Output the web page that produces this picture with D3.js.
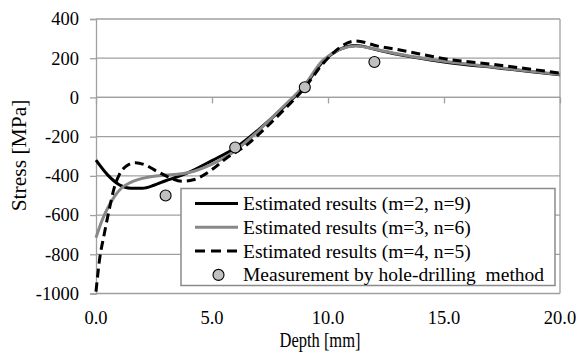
<!DOCTYPE html>
<html>
<head>
<meta charset="utf-8">
<script src="https://cdn.jsdelivr.net/npm/d3@7"></script>
<style>
  html, body { margin: 0; padding: 0; background: #fff; }
  svg { display: block; }
  svg text { font-family: "Liberation Serif", "Times New Roman", serif; fill: #000; }
</style>
</head>
<body>
<svg id="chart" width="578" height="352"></svg>
<script>
// Estimated residual stress profiles and hole-drilling measurements
const seriesLabels = [
  "Estimated results (m=2, n=9)",
  "Estimated results (m=3, n=6)",
  "Estimated results (m=4, n=5)",
  "Measurement by hole-drilling  method"
];

const depthM2 = [0, 0.5, 1.0, 1.5, 2.0, 2.5, 3.0, 3.5, 4.0, 5.0, 6.0, 7.0, 8.0, 9.0, 9.8, 11.2, 12.2, 13.1, 15.0, 17.5, 20.0];
const stressM2 = [-320, -395, -445, -463, -463, -448, -425, -405, -382, -322, -258, -165, -60, 60, 185, 265, 240, 217, 181, 148, 115];

const depthM3 = [0, 0.25, 0.5, 0.8, 1.1, 1.5, 2.0, 2.5, 3.0, 3.5, 4.0, 5.0, 6.0, 7.0, 8.0, 9.0, 9.8, 11.2, 12.2, 13.1, 15.0, 17.5, 20.0];
const stressM3 = [-715, -630, -565, -505, -462, -433, -413, -402, -396, -392, -383, -340, -272, -170, -55, 65, 192, 262, 242, 220, 184, 150, 117];

const depthM4 = [0, 0.15, 0.35, 0.6, 0.8, 1.0, 1.25, 1.7, 2.1, 2.6, 3.1, 3.7, 4.2, 5.0, 5.6, 6.5, 7.0, 8.0, 9.0, 9.8, 11.2, 12.2, 13.1, 15.0, 17.5, 20.0];
const stressM4 = [-990, -830, -700, -555, -455, -395, -355, -333, -343, -375, -405, -428, -420, -368, -312, -242, -190, -75, 50, 175, 288, 260, 242, 198, 163, 124];

const depthMeasured = [3.0, 6.0, 9.0, 12.0];
const stressMeasured = [-500, -255, 52, 181];

const xTicks = [0, 5, 10, 15, 20];
const yTicks = [400, 200, 0, -200, -400, -600, -800, -1000];

const svg = d3.select("#chart");
const x = d3.scaleLinear().domain([0, 20]).range([96, 560]);
const y = d3.scaleLinear().domain([-1000, 400]).range([293.5, 19]);

const gridColor = "#a0a0a0";
const serif = "Liberation Serif";

// horizontal gridlines
svg.append("g").selectAll("line").data(yTicks).join("line")
  .attr("x1", x(0)).attr("x2", x(20))
  .attr("y1", d => y(d)).attr("y2", d => y(d))
  .attr("stroke", gridColor).attr("stroke-width", 1.3);

// right frame edge
svg.append("line")
  .attr("x1", x(20)).attr("x2", x(20)).attr("y1", y(400)).attr("y2", y(-1000))
  .attr("stroke", gridColor).attr("stroke-width", 1.3);

// y axis (hyphen-minus labels)
const yAxis = d3.axisLeft(y).tickValues(yTicks).tickSize(6).tickPadding(11).tickFormat(d => String(d));
const gy = svg.append("g").attr("transform", `translate(${x(0)},0)`).call(yAxis)
  .attr("font-family", serif).attr("font-size", 18.5);
gy.select(".domain").attr("stroke", gridColor).attr("stroke-width", 1.3);
gy.selectAll(".tick line").attr("stroke", gridColor).attr("stroke-width", 1.3);
gy.selectAll(".tick text").style("font-family", serif).style("font-size", "18.5px").attr("fill", "#000");

// x axis crossing at zero, labels along the bottom
const xAxis = d3.axisBottom(x).tickValues(xTicks).tickSize(6).tickFormat(d3.format(".1f"));
const gx = svg.append("g").attr("transform", `translate(0,${y(0)})`).call(xAxis);
gx.select(".domain").attr("stroke", gridColor).attr("stroke-width", 1.3).attr("d", `M${x(0)},0H${x(20)}`);
gx.selectAll(".tick line").attr("stroke", gridColor).attr("stroke-width", 1.3);
gx.selectAll(".tick text").remove();

svg.append("g").selectAll("text").data(xTicks).join("text")
  .attr("x", d => x(d)).attr("y", 318)
  .attr("text-anchor", "middle").attr("dominant-baseline", "central")
  .style("font-family", serif).style("font-size", "18.5px")
  .text(d => d3.format(".1f")(d));

// axis titles
svg.append("text")
  .attr("transform", "translate(320,340) scale(1,1.25)")
  .attr("text-anchor", "middle").attr("dominant-baseline", "central")
  .style("font-family", serif).style("font-size", "16.5px").text("Depth [mm]");
svg.append("text")
  .attr("transform", `translate(19,155.5) rotate(-90)`)
  .attr("text-anchor", "middle").attr("dominant-baseline", "central")
  .style("font-family", serif).style("font-size", "21.5px").text("Stress [MPa]");

// estimated profiles
const line = d3.line().x(d => x(d[0])).y(d => y(d[1])).curve(d3.curveMonotoneX);
const series = [
  { pts: d3.zip(depthM2, stressM2), color: "#000", dash: null },
  { pts: d3.zip(depthM3, stressM3), color: "#888", dash: null },
  { pts: d3.zip(depthM4, stressM4), color: "#000", dash: "9,5" }
];
svg.append("g").selectAll("path").data(series).join("path")
  .attr("d", d => line(d.pts))
  .attr("fill", "none")
  .attr("stroke", d => d.color)
  .attr("stroke-width", 3)
  .attr("stroke-dasharray", d => d.dash);

// hole-drilling measurements
svg.append("g").selectAll("circle").data(d3.zip(depthMeasured, stressMeasured)).join("circle")
  .attr("cx", d => x(d[0])).attr("cy", d => y(d[1])).attr("r", 5.5)
  .attr("fill", "#c0c0c0").attr("stroke", "#000").attr("stroke-width", 1.1);

// legend
const lg = svg.append("g");
lg.append("rect").attr("x", 181).attr("y", 188.5).attr("width", 374).attr("height", 97)
  .attr("fill", "#fff").attr("stroke", "#8a8a8a").attr("stroke-width", 1.5);
const rowY = i => 203.5 + i * 23.8;
const legendStyles = [
  { color: "#000", dash: null },
  { color: "#888", dash: null },
  { color: "#000", dash: "10,6" }
];
legendStyles.forEach((s, i) => {
  lg.append("line").attr("x1", 195).attr("x2", 238).attr("y1", rowY(i)).attr("y2", rowY(i))
    .attr("stroke", s.color).attr("stroke-width", 3).attr("stroke-dasharray", s.dash);
});
lg.append("circle").attr("cx", 218.5).attr("cy", rowY(3)).attr("r", 5.5)
  .attr("fill", "#c0c0c0").attr("stroke", "#000").attr("stroke-width", 1.1);
lg.selectAll("text.lab").data(seriesLabels).join("text")
  .attr("class", "lab")
  .attr("x", 243).attr("y", (d, i) => rowY(i))
  .attr("dominant-baseline", "central")
  .style("font-family", serif).style("font-size", "19.5px")
  .style("white-space", "pre")
  .text(d => d);
</script>
</body>
</html>
